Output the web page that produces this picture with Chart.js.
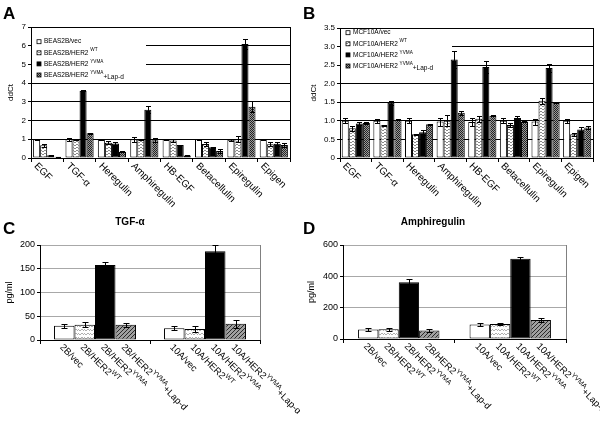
<!DOCTYPE html>
<html>
<head>
<meta charset="utf-8">
<script src="https://cdn.jsdelivr.net/npm/chart.js@4.4.0/dist/chart.umd.min.js"></script>
<style>
  body { margin: 0; background: #fff; width: 600px; height: 426px; position: relative; overflow: hidden; }
  canvas { position: absolute; }
  .tag { position: absolute; font: bold 17px "Liberation Sans", Arial, sans-serif; line-height: 1; }
</style>
</head>
<body>
<canvas id="chartA" width="300" height="213" style="left:0;top:0"></canvas>
<canvas id="chartB" width="300" height="213" style="left:300px;top:0"></canvas>
<canvas id="chartC" width="300" height="213" style="left:0;top:213px"></canvas>
<canvas id="chartD" width="300" height="213" style="left:300px;top:213px"></canvas>
<div class="tag" style="left:3px;top:5px">A</div>
<div class="tag" style="left:303px;top:5px">B</div>
<div class="tag" style="left:3px;top:220px">C</div>
<div class="tag" style="left:303px;top:220px">D</div>
<script>
const genes = ['EGF', 'TGF-α', 'Heregulin', 'Amphiregulin', 'HB-EGF', 'Betacellulin', 'Epiregulin', 'Epigen'];

// A: BEAS2B, ddCt
const beasNames   = ['BEAS2B/vec', 'BEAS2B/HER2 ^{WT}', 'BEAS2B/HER2 ^{YVMA}', 'BEAS2B/HER2 ^{YVMA}_{+Lap-d}'];
const beasVec     = [1.00, 1.00, 1.00, 1.00, 1.00, 1.00, 0.97, 1.00];
const beasWT      = [0.68, 0.98, 0.82, 0.98, 0.94, 0.75, 1.00, 0.74];
const beasYVMA    = [0.15, 3.60, 0.78, 2.58, 0.69, 0.57, 6.09, 0.76];
const beasLap     = [0.07, 1.32, 0.34, 0.95, 0.14, 0.37, 2.74, 0.70];
const beasVecErr  = [0.04, 0.08, 0.03, 0.13, 0.04, 0.02, 0.06, 0.03];
const beasWTErr   = [0.07, 0.03, 0.08, 0.03, 0.06, 0.10, 0.15, 0.10];
const beasYVMAErr = [0.03, 0.03, 0.10, 0.18, 0.02, 0.02, 0.25, 0.10];
const beasLapErr  = [0.01, 0.02, 0.02, 0.10, 0.02, 0.12, 0.30, 0.10];

// B: MCF10A, ddCt
const mcfNames   = ['MCF10A/vec', 'MCF10A/HER2 ^{WT}', 'MCF10A/HER2 ^{YVMA}', 'MCF10A/HER2 ^{YVMA}_{+Lap-d}'];
const mcfVec     = [1.00, 1.00, 1.00, 0.98, 0.97, 1.00, 0.98, 1.00];
const mcfWT      = [0.80, 0.88, 0.64, 1.00, 1.06, 0.89, 1.54, 0.64];
const mcfYVMA    = [0.93, 1.49, 0.69, 2.65, 2.45, 1.08, 2.42, 0.77];
const mcfLap     = [0.94, 1.03, 0.91, 1.22, 1.14, 0.98, 1.50, 0.82];
const mcfVecErr  = [0.07, 0.06, 0.07, 0.11, 0.10, 0.07, 0.08, 0.06];
const mcfWTErr   = [0.06, 0.01, 0.01, 0.15, 0.08, 0.05, 0.08, 0.04];
const mcfYVMAErr = [0.05, 0.05, 0.07, 0.22, 0.15, 0.06, 0.10, 0.06];
const mcfLapErr  = [0.03, 0.01, 0.01, 0.05, 0.01, 0.01, 0.01, 0.05];

// C and D: ELISA, pg/ml
const cellLines   = ['2B', '10A'];
const barSuffixes = ['/vec', '/HER2^{WT}', '/HER2^{YVMA}', '/HER2^{YVMA}+Lap-d'];
const tgfVec      = [30, 25];
const tgfWT       = [32, 23];
const tgfYVMA     = [158, 187];
const tgfLap      = [32, 34];
const tgfVecErr   = [4, 4];
const tgfWTErr    = [5, 7];
const tgfYVMAErr  = [6, 12];
const tgfLapErr   = [4, 8];
const amphVec     = [60, 92];
const amphWT      = [62, 95];
const amphYVMA    = [362, 512];
const amphLap     = [55, 122];
const amphVecErr  = [8, 8];
const amphWTErr   = [8, 8];
const amphYVMAErr = [18, 14];
const amphLapErr  = [8, 14];

const FONT = '"Liberation Sans", Arial, sans-serif';
Chart.defaults.font.family = FONT;
Chart.defaults.color = '#000';

function pattern(w, h, bg, fg, dots) {
  const c = document.createElement('canvas');
  c.width = w; c.height = h;
  const g = c.getContext('2d');
  g.fillStyle = bg; g.fillRect(0, 0, w, h);
  g.fillStyle = fg;
  dots.forEach(([x, y]) => g.fillRect(x, y, 1, 1));
  return g.createPattern(c, 'repeat');
}
const stripes  = pattern(4, 3, '#fff', '#8a8a8a', [[0, 0], [1, 0], [2, 1], [3, 1]]);
const checker  = pattern(2, 2, '#9a9a9a', '#222', [[0, 0], [1, 1]]);
const waves    = pattern(6, 4, '#fff', '#b0b0b0', [[0, 0], [1, 1], [2, 1], [3, 0], [4, 0], [5, 1]]);
const hatch    = pattern(4, 4, '#a0a0a0', '#2a2a2a', [[0, 3], [1, 2], [2, 1], [3, 0]]);

function parseRich(s) {
  const out = [];
  const re = /\^\{([^}]*)\}|_\{([^}]*)\}|([^^_]+)/g;
  let m;
  while ((m = re.exec(s))) {
    if (m[1] != null) out.push([m[1], 'sup']);
    else if (m[2] != null) out.push([m[2], 'sub']);
    else out.push([m[3], '']);
  }
  return out;
}
function drawRich(ctx, s, x, y, size) {
  parseRich(s).forEach(([t, k]) => {
    const fs = k === 'sup' ? size * 0.72 : size;
    ctx.font = fs + 'px ' + FONT;
    const dy = k === 'sup' ? -size * 0.4 : k === 'sub' ? size * 0.3 : 0;
    ctx.fillText(t, x, y + dy);
    x += ctx.measureText(t).width;
  });
}

const errorBars = {
  id: 'errorBars',
  afterDatasetsDraw(chart, args, o) {
    const ctx = chart.ctx, ys = chart.scales.y;
    ctx.save();
    ctx.strokeStyle = '#000';
    ctx.lineWidth = 1;
    chart.data.datasets.forEach((ds, i) => {
      chart.getDatasetMeta(i).data.forEach((bar, j) => {
        const e = ds.err[j];
        if (!e) return;
        const x = Math.round(bar.x) + 0.5;
        const top = Math.round(ys.getPixelForValue(ds.data[j] + e)) + 0.5;
        const bot = Math.round(ys.getPixelForValue(Math.max(ds.data[j] - e, 0))) + 0.5;
        ctx.beginPath();
        ctx.moveTo(x, top); ctx.lineTo(x, bot);
        ctx.moveTo(x - o.cap, top); ctx.lineTo(x + o.cap, top);
        ctx.moveTo(x - o.cap, bot); ctx.lineTo(x + o.cap, bot);
        ctx.stroke();
      });
    });
    ctx.restore();
  }
};

const boxLegend = {
  id: 'boxLegend',
  beforeDatasetsDraw(chart, args, o) {
    if (!o.show) return;
    const ctx = chart.ctx, a = chart.chartArea;
    ctx.save();
    ctx.fillStyle = '#fff';
    ctx.fillRect(a.left + 1, o.top, o.width, o.height);
    chart.data.datasets.forEach((ds, i) => {
      const y = o.firstRow + i * o.rowGap;
      ctx.fillStyle = ds.backgroundColor;
      ctx.fillRect(o.boxX, y - 2, 4, 4);
      ctx.strokeStyle = '#000';
      ctx.lineWidth = 0.8;
      ctx.strokeRect(o.boxX, y - 2, 4, 4);
      ctx.fillStyle = '#000';
      ctx.textAlign = 'left';
      ctx.textBaseline = 'middle';
      drawRich(ctx, ds.label, o.boxX + 7, y, o.size);
    });
    ctx.restore();
  }
};

const frame = {
  id: 'frame',
  afterDatasetsDraw(chart, args, o) {
    const ctx = chart.ctx, a = chart.chartArea;
    ctx.save();
    ctx.strokeStyle = o.color;
    ctx.lineWidth = 1;
    const x = Math.round(a.right) + 0.5;
    ctx.beginPath(); ctx.moveTo(x, a.top); ctx.lineTo(x, a.bottom); ctx.stroke();
    ctx.restore();
  }
};

const rotLabels = {
  id: 'rotLabels',
  afterDraw(chart, args, o) {
    const ctx = chart.ctx, xs = chart.scales.x, base = chart.chartArea.bottom;
    ctx.save();
    ctx.fillStyle = '#000';
    ctx.textAlign = 'left';
    ctx.textBaseline = 'middle';
    const put = (text, cx) => {
      ctx.save();
      ctx.translate(cx + o.dx, base + o.dy);
      ctx.rotate(Math.PI / 4);
      drawRich(ctx, text, 0, 0, o.size);
      ctx.restore();
    };
    if (o.perBar) {
      chart.data.datasets.forEach((ds, i) => {
        chart.getDatasetMeta(i).data.forEach((bar, j) => put(chart.data.labels[j] + barSuffixes[i], bar.x));
      });
    } else {
      chart.data.labels.forEach((l, j) => put(l, xs.getPixelForValue(j)));
    }
    ctx.restore();
  }
};

function barChart(id, o) {
  return new Chart(document.getElementById(id), {
    type: 'bar',
    data: {
      labels: o.labels,
      datasets: o.series.map((s, i) => ({
        label: s[0], data: s[1], err: s[2],
        backgroundColor: o.fills[i],
        borderColor: '#000',
        borderWidth: 1,
        borderSkipped: false,
        categoryPercentage: o.catPct,
        barPercentage: 1
      }))
    },
    options: {
      responsive: false,
      animation: false,
      layout: { padding: o.pad },
      plugins: {
        legend: { display: false },
        tooltip: { enabled: false },
        title: o.title
          ? { display: true, text: o.title, color: '#000', font: { size: 10, weight: 'bold' }, padding: { top: 3, bottom: 17 } }
          : { display: false },
        errorBars: { cap: o.cap },
        boxLegend: o.legend || { show: false },
        frame: { color: o.frameColor },
        rotLabels: o.rot
      },
      scales: {
        x: {
          grid: { drawOnChartArea: false, color: '#000', tickLength: 4, offset: true },
          border: { color: '#000' },
          ticks: { display: false },
          afterFit: s => { s.height = o.xh; }
        },
        y: {
          min: 0, max: o.max,
          ticks: { stepSize: o.step, color: '#000', padding: 2, font: { size: o.tickSize } },
          grid: { color: o.gridColor, tickColor: '#000', tickLength: 3 },
          border: { color: '#000' },
          title: { display: true, text: o.yTitle, color: '#000', font: { size: o.titleSize }, padding: { top: o.titlePad, bottom: 0 } },
          afterFit: s => { s.width = o.yw; }
        }
      }
    },
    plugins: [errorBars, boxLegend, frame, rotLabels]
  });
}

barChart('chartA', {
  labels: genes,
  series: [
    [beasNames[0], beasVec, beasVecErr],
    [beasNames[1], beasWT, beasWTErr],
    [beasNames[2], beasYVMA, beasYVMAErr],
    [beasNames[3], beasLap, beasLapErr]
  ],
  fills: ['#fff', stripes, '#000', checker],
  catPct: 0.87, max: 7, step: 1, yTitle: 'ddCt', yw: 31, xh: 55,
  pad: { top: 27, right: 10, left: 0, bottom: 0 },
  tickSize: 8, titleSize: 8, titlePad: 6, gridColor: '#000', frameColor: '#000', cap: 2.5,
  legend: { show: true, top: 31, width: 114, height: 51, firstRow: 41.7, rowGap: 11.1, boxX: 37, size: 6.5 },
  rot: { perBar: false, dx: -11.5, dy: 6.5, size: 10 }
});

barChart('chartB', {
  labels: genes,
  series: [
    [mcfNames[0], mcfVec, mcfVecErr],
    [mcfNames[1], mcfWT, mcfWTErr],
    [mcfNames[2], mcfYVMA, mcfYVMAErr],
    [mcfNames[3], mcfLap, mcfLapErr]
  ],
  fills: ['#fff', stripes, '#000', checker],
  catPct: 0.89, max: 3.5, step: 0.5, yTitle: 'ddCt', yw: 40, xh: 55,
  pad: { top: 28, right: 7, left: 0, bottom: 0 },
  tickSize: 8, titleSize: 8, titlePad: 9, gridColor: '#000', frameColor: '#000', cap: 2.5,
  legend: { show: true, top: 30, width: 111, height: 50, firstRow: 32.7, rowGap: 11.1, boxX: 46, size: 6.5 },
  rot: { perBar: false, dx: -11.5, dy: 6.5, size: 10 }
});

barChart('chartC', {
  labels: cellLines,
  series: [
    ['vec', tgfVec, tgfVecErr],
    ['WT', tgfWT, tgfWTErr],
    ['YVMA', tgfYVMA, tgfYVMAErr],
    ['YVMA+Lap-d', tgfLap, tgfLapErr]
  ],
  fills: ['#fff', waves, '#000', hatch],
  catPct: 0.745, max: 200, step: 50, yTitle: 'pg/ml', yw: 40, xh: 86,
  pad: { top: 0, right: 40, left: 0, bottom: 0 },
  tickSize: 9, titleSize: 9, titlePad: 4.5, gridColor: '#a8a8a8', frameColor: '#808080', cap: 3,
  title: 'TGF-α',
  rot: { perBar: true, dx: -3, dy: 6, size: 9.5 }
});

barChart('chartD', {
  labels: cellLines,
  series: [
    ['vec', amphVec, amphVecErr],
    ['WT', amphWT, amphWTErr],
    ['YVMA', amphYVMA, amphYVMAErr],
    ['YVMA+Lap-d', amphLap, amphLapErr]
  ],
  fills: ['#fff', waves, '#000', hatch],
  catPct: 0.73, max: 600, step: 200, yTitle: 'pg/ml', yw: 43, xh: 87,
  pad: { top: 0, right: 34, left: 0, bottom: 0 },
  tickSize: 9, titleSize: 9, titlePad: 6, gridColor: '#a8a8a8', frameColor: '#808080', cap: 3,
  title: 'Amphiregulin',
  rot: { perBar: true, dx: -3, dy: 6, size: 9.5 }
});
</script>
</body>
</html>
